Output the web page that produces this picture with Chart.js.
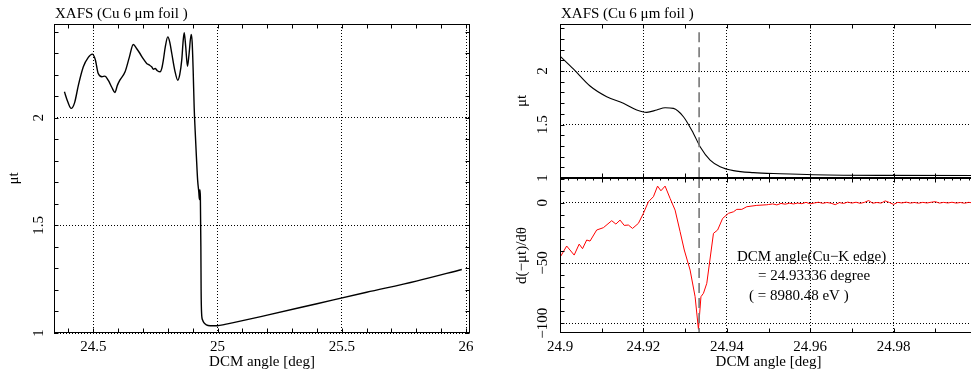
<!DOCTYPE html>
<html>
<head>
<meta charset="utf-8">
<script src="https://cdn.jsdelivr.net/npm/chart.js@4.4.1/dist/chart.umd.min.js"></script>
<style>
  html, body { margin: 0; padding: 0; background: #fff; overflow: hidden; }
  #wrap { position: relative; width: 971px; height: 375px; overflow: hidden; }
  canvas { position: absolute; }
</style>
</head>
<body>
<div id="wrap">
  <canvas id="scan" width="480" height="375" style="left:0;top:0"></canvas>
  <canvas id="edge" width="497" height="190" style="left:480px;top:0"></canvas>
  <canvas id="deriv" width="497" height="205" style="left:480px;top:170px"></canvas>
</div>
<script>
// full scan, mu*t vs DCM angle
const scanAngle = [24.384, 24.397, 24.411, 24.425, 24.44, 24.46, 24.48, 24.496, 24.508, 24.52,
  24.535, 24.547, 24.56, 24.575, 24.587, 24.597, 24.607, 24.628, 24.645, 24.661,
  24.675, 24.688, 24.70, 24.715, 24.725, 24.735, 24.742, 24.749, 24.758, 24.769,
  24.776, 24.782, 24.79, 24.80, 24.808, 24.816, 24.828, 24.84, 24.848, 24.856,
  24.862, 24.866, 24.872, 24.879, 24.885, 24.894, 24.898, 24.902, 24.906, 24.910,
  24.915, 24.920, 24.925, 24.927, 24.929, 24.931, 24.933, 24.934, 24.936, 24.94,
  24.945, 24.955, 24.97, 25.0, 25.03, 25.064, 25.2, 25.4, 25.6, 25.8, 25.983];
const scanMut = [2.12, 2.075, 2.043, 2.07, 2.15, 2.236, 2.28, 2.295, 2.27, 2.205,
  2.19, 2.193, 2.174, 2.14, 2.117, 2.15, 2.174, 2.213, 2.28, 2.34,
  2.32, 2.298, 2.275, 2.252, 2.245, 2.236, 2.225, 2.228, 2.218, 2.213,
  2.23, 2.267, 2.33, 2.375, 2.35, 2.298, 2.22, 2.174, 2.2, 2.267,
  2.36, 2.395, 2.33, 2.239, 2.29, 2.386, 2.35, 2.22, 2.05, 1.94,
  1.82, 1.71, 1.65, 1.62, 1.665, 1.63, 1.4, 1.2, 1.09, 1.06,
  1.048, 1.038, 1.034, 1.034, 1.04, 1.048, 1.083, 1.136, 1.189, 1.241, 1.295];

// edge region, mu*t
const edgeAngle = [24.9, 24.9032, 24.9072, 24.9112, 24.9152, 24.9184, 24.9208, 24.9232, 24.9252, 24.9272,
  24.9296, 24.932, 24.9336, 24.936, 24.9384, 24.9416, 24.9464, 24.9528, 24.9608, 24.9768, 25.0];
const edgeMut = [2.14, 2.02, 1.86, 1.76, 1.698, 1.636, 1.614, 1.636, 1.657, 1.651,
  1.573, 1.417, 1.293, 1.168, 1.106, 1.069, 1.05, 1.04, 1.031, 1.025, 1.024];

// edge region, d(-mu t)/d theta
const derivAngle = [24.9002, 24.9016, 24.9034, 24.9046, 24.9054, 24.9064, 24.9072, 24.9088, 24.9104, 24.9124,
  24.9134, 24.9144, 24.9154, 24.9164, 24.9174, 24.9188, 24.92, 24.9212, 24.9224, 24.9234,
  24.9242, 24.9252, 24.9264, 24.9276, 24.9288, 24.9298, 24.9312, 24.9324, 24.9332, 24.9338,
  24.9344, 24.9352, 24.9368, 24.9378, 24.939, 24.9404, 24.9416, 24.9424, 24.9436, 24.9448,
  24.9472, 24.9496,
  24.950, 24.951, 24.952, 24.953, 24.954, 24.955, 24.956, 24.957, 24.958, 24.959,
  24.960, 24.961, 24.962, 24.963, 24.964, 24.965, 24.966, 24.967, 24.968, 24.969,
  24.970, 24.971, 24.972, 24.973, 24.974, 24.975, 24.976, 24.977, 24.978, 24.979,
  24.980, 24.981, 24.982, 24.983, 24.984, 24.985, 24.986, 24.987, 24.988, 24.989,
  24.990, 24.991, 24.992, 24.993, 24.994, 24.995, 24.996, 24.997, 24.998, 24.999, 25.000];
const derivValue = [-44.2, -35.9, -43.4, -34.3, -38.1, -30.9, -31.8, -22.6, -20.7, -14.9,
  -17.7, -14.4, -18.8, -18.5, -21.3, -17.1, -8.8, 0.8, 5.0, 13.8,
  9.9, 13.8, 3.6, -6.1, -24.0, -39.2, -55.8, -77.9, -105, -77.9,
  -75.1, -66.8, -25.4, -22.6, -13.0, -8.8, -7.5, -5.5, -5.5, -3.3,
  -2.2, -1.7,
  -1.5, -1.0, -1.8, -0.6, -1.2, -0.4, -1.0, -0.3, -0.8, 0.3,
  -0.9, -0.2, 0.4, -0.5, 0.2, -0.4, -1.6, 0.1, -0.6, 0.5,
  -0.3, 0.4, -0.5, 0.3, 1.8, -0.4, 0.2, -0.3, 1.5, 0.2,
  -1.4, 0.3, -0.2, 0.5, -0.3, 0.2, -0.4, 0.3, -0.2, 0.4,
  0.9, -0.3, 0.3, -0.2, 0.4, -0.3, 0.2, -0.4, 0.3, -0.1, 0.2];

const edgePosition = 24.93336;

const scanXTicks = [24.5, 25, 25.5, 26];
const scanXLabels = ['24.5', '25', '25.5', '26'];
const zoomXTicks = [24.9, 24.92, 24.94, 24.96, 24.98];
const zoomXLabels = ['24.9', '24.92', '24.94', '24.96', '24.98'];
const mutTicks = [1, 1.5, 2];
const mutLabels = ['1', '1.5', '2'];
const derivTicks = [-100, -50, 0];
const derivLabels = ['\u2212100', '\u221250', '0'];

const FONT = "15px 'Liberation Serif'";
Chart.defaults.font.family = "'Liberation Serif', 'Times New Roman', serif";
Chart.defaults.font.size = 15;
Chart.defaults.color = '#000';

const pairs = (xs, ys) => xs.map((x, i) => ({ x: x, y: ys[i] }));

// gnuplot-like frame: inward ticks, rotated y labels, free texts, edge marker
const gnuFrame = {
  id: 'gnuFrame',
  afterDatasetsDraw(chart, args, o) {
    const { ctx, chartArea: a } = chart;
    const xs = chart.scales.x, ys = chart.scales.y;
    const L = Math.round(a.left) + 0.5, R = Math.round(a.right) - 0.5;
    const T = Math.round(a.top) + 0.5, B = Math.round(a.bottom) - 0.5;
    ctx.save();

    if (o.edge) {
      const p = xs.getPixelForValue(o.edge.value);
      const top = o.edge.from != null ? ys.getPixelForValue(o.edge.from) : a.top;
      ctx.strokeStyle = '#777';
      ctx.lineWidth = 1.6;
      ctx.setLineDash([10, 5]);
      ctx.beginPath();
      ctx.moveTo(p, top);
      ctx.lineTo(p, a.bottom);
      ctx.stroke();
      ctx.setLineDash([]);
    }

    ctx.strokeStyle = '#000';
    ctx.lineWidth = 1;
    ctx.beginPath();
    (o.xMarks || []).forEach(m => {
      for (let i = 0; ; i++) {
        const v = m.from + i * m.step;
        if (v > xs.max + 1e-9) break;
        const p = Math.round(xs.getPixelForValue(v)) + 0.5;
        if (m.top) { ctx.moveTo(p, T); ctx.lineTo(p, T + m.len); }
        if (m.bottom) { ctx.moveTo(p, B); ctx.lineTo(p, B - m.len); }
      }
    });
    (o.yMarks || []).forEach(m => {
      for (let i = 0; ; i++) {
        const v = m.from + i * m.step;
        if (v > ys.max + 1e-9) break;
        const p = Math.round(ys.getPixelForValue(v)) + 0.5;
        if (m.left) { ctx.moveTo(L, p); ctx.lineTo(L + m.len, p); }
        if (m.right) { ctx.moveTo(R, p); ctx.lineTo(R - m.len, p); }
      }
    });
    ctx.stroke();
    ctx.strokeRect(L, T, R - L, B - T);

    ctx.fillStyle = '#000';
    ctx.font = FONT;
    ctx.textAlign = 'center';
    ctx.textBaseline = 'middle';
    (o.yTicks || []).forEach((v, i) => {
      ctx.save();
      ctx.translate(a.left - o.labelGap, ys.getPixelForValue(v));
      ctx.rotate(-Math.PI / 2);
      ctx.fillText(o.yLabels[i], 0, 0);
      ctx.restore();
    });

    (o.texts || []).forEach(t => {
      ctx.textAlign = 'left';
      ctx.textBaseline = t.baseline || 'middle';
      ctx.fillText(t.text, t.x, t.y);
    });
    ctx.restore();
  }
};

function xAxis(min, max, ticks, labels, showLabels) {
  return {
    type: 'linear', min: min, max: max,
    afterBuildTicks: s => { s.ticks = ticks.map(v => ({ value: v })); },
    afterFit: s => { s.height = showLabels ? 42 : 0; },
    ticks: { display: showLabels, callback: (v, i) => labels[i], padding: 5, maxRotation: 0, autoSkip: false },
    grid: { color: '#000', lineWidth: 1, drawTicks: false },
    border: { display: false, dash: [1, 2] },
    title: { display: showLabels, text: 'DCM angle [deg]', padding: { top: 0, bottom: 4 } }
  };
}

function yAxis(min, max, ticks, width, title, titlePad) {
  return {
    min: min, max: max,
    afterBuildTicks: s => { s.ticks = ticks.map(v => ({ value: v })); },
    afterFit: s => { s.width = width; },
    ticks: { display: false },
    grid: { color: '#000', lineWidth: 1, drawTicks: false },
    border: { display: false, dash: [1, 2] },
    title: { display: true, text: title, padding: { top: titlePad, bottom: 0 } }
  };
}

const common = {
  responsive: false,
  animation: false,
  events: [],
  elements: { point: { radius: 0 } }
};

new Chart(document.getElementById('scan'), {
  type: 'line',
  data: {
    datasets: [{
      data: pairs(scanAngle, scanMut),
      borderColor: '#000', borderWidth: 1.4, cubicInterpolationMode: 'monotone'
    }]
  },
  options: Object.assign({}, common, {
    layout: { padding: { left: 0, right: 10, top: 24, bottom: 0 } },
    scales: {
      x: xAxis(24.342, 26.016, scanXTicks, scanXLabels, true),
      y: yAxis(1, 2.435, mutTicks, 54, '\u03bct', 5)
    },
    plugins: {
      legend: { display: false },
      tooltip: { enabled: false },
      gnuFrame: {
        xMarks: [{ from: 24.4, step: 0.1, len: 4, top: true, bottom: true }],
        yMarks: [{ from: 1, step: 0.1, len: 4, left: true, right: true }],
        yTicks: mutTicks, yLabels: mutLabels, labelGap: 15,
        texts: [{ text: 'XAFS (Cu 6 \u03bcm foil )', x: 55, y: 18, baseline: 'alphabetic' }]
      }
    }
  }),
  plugins: [gnuFrame]
});

new Chart(document.getElementById('edge'), {
  type: 'line',
  data: {
    datasets: [{
      data: pairs(edgeAngle, edgeMut),
      borderColor: '#000', borderWidth: 1.1, cubicInterpolationMode: 'monotone'
    }]
  },
  options: Object.assign({}, common, {
    layout: { padding: { left: 0, right: 0, top: 24, bottom: 12 } },
    scales: {
      x: xAxis(24.9, 25.0, zoomXTicks, zoomXLabels, false),
      y: yAxis(1, 2.44, mutTicks, 80, '\u03bct', 33)
    },
    plugins: {
      legend: { display: false },
      tooltip: { enabled: false },
      gnuFrame: {
        edge: { value: edgePosition, from: 2.364 },
        xMarks: [{ from: 24.9, step: 0.01, len: 4, top: true, bottom: true }],
        yMarks: [{ from: 1, step: 0.1, len: 4, left: true }],
        yTicks: mutTicks, yLabels: mutLabels, labelGap: 17,
        texts: [{ text: 'XAFS (Cu 6 \u03bcm foil )', x: 81, y: 18, baseline: 'alphabetic' }]
      }
    }
  }),
  plugins: [gnuFrame]
});

new Chart(document.getElementById('deriv'), {
  type: 'line',
  data: {
    datasets: [{
      data: pairs(derivAngle, derivValue),
      borderColor: '#ff0000', borderWidth: 1, tension: 0
    }]
  },
  options: Object.assign({}, common, {
    layout: { padding: { left: 0, right: 0, top: 8, bottom: 0 } },
    scales: {
      x: xAxis(24.9, 25.0, zoomXTicks, zoomXLabels, true),
      y: yAxis(-108, 20.5, derivTicks, 80, 'd(\u2212\u03bct)/d\u03b8', 33)
    },
    plugins: {
      legend: { display: false },
      tooltip: { enabled: false },
      gnuFrame: {
        edge: { value: edgePosition },
        xMarks: [
          { from: 24.9, step: 0.01, len: 4, top: true, bottom: true },
          { from: 24.9, step: 0.002, len: 2, top: true }
        ],
        yMarks: [{ from: -100, step: 10, len: 4, left: true }],
        yTicks: derivTicks, yLabels: derivLabels, labelGap: 17,
        texts: [
          { text: 'DCM angle(Cu\u2212K edge)', x: 257, y: 87 },
          { text: '= 24.93336 degree', x: 278, y: 106 },
          { text: '( = 8980.48 eV )', x: 269, y: 126 }
        ]
      }
    }
  }),
  plugins: [gnuFrame]
});
</script>
</body>
</html>
